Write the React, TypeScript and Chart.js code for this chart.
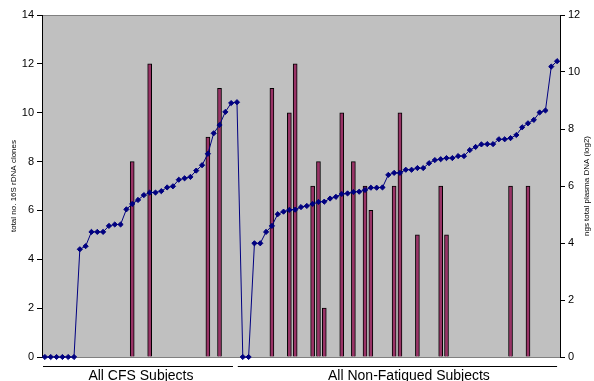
import React, { useEffect, useRef } from "react";
import { Chart, registerables } from "chart.js";

Chart.register(...registerables);

// ngs total plasma DNA (log2) – right axis, line
const cfsPlasma = [
  0, 0, 0, 0, 0, 0, 3.78, 3.89, 4.39, 4.39, 4.39, 4.6, 4.65, 4.65, 5.18, 5.37, 5.51,
  5.68, 5.77, 5.77, 5.82, 5.95, 5.99, 6.22, 6.27, 6.32, 6.54, 6.73, 7.13, 7.85, 8.14,
  8.6, 8.91, 8.94,
];
const nfPlasma = [
  0, 0, 3.99, 3.99, 4.39, 4.6, 5.01, 5.1, 5.16, 5.17, 5.26, 5.3, 5.37, 5.44, 5.45, 5.56,
  5.62, 5.72, 5.74, 5.79, 5.8, 5.86, 5.94, 5.94, 5.95, 6.39, 6.46, 6.46, 6.57, 6.57,
  6.63, 6.63, 6.8, 6.91, 6.94, 6.98, 6.98, 7.05, 7.05, 7.26, 7.37, 7.46, 7.47, 7.47,
  7.64, 7.64, 7.68, 7.79, 8.06, 8.2, 8.32, 8.58, 8.65, 10.19, 10.38,
];

// total no. 16S rDNA clones – left axis, bars
const n = null;
const cfsClones = [
  n, n, n, n, n, n, n, n, n, n, n, n, n, n, n, 8, n, n, 12, n, n, n, n, n, n, n, n, n,
  9, n, 11, n, n, n,
];
const nfClones = [
  n, n, n, n, n, 11, n, n, 10, 12, n, n, 7, 8, 2, n, n, 10, n, 8, n, 7, 6, n, n, n, 7,
  10, n, n, 5, n, n, n, 7, 5, n, n, n, n, n, n, n, n, n, n, 7, n, n, 7, n, n, n, n, n,
];

const groupNames = ["All CFS Subjects", "All Non-Fatigued Subjects"];
const leftAxisTitle = "total no. 16S rDNA clones";
const rightAxisTitle = "ngs total plasma DNA (log2)";
const leftMax = 14;
const rightMax = 12;
const tickStep = 2;

const subjects = [
  ...cfsPlasma.map((_, i) => `CFS ${i + 1}`),
  ...nfPlasma.map((_, i) => `NF ${i + 1}`),
];

const FONT = "'Liberation Sans', Arial, Helvetica, sans-serif";

const decorPlugin = {
  id: "decor",
  beforeDraw(chart: any) {
    const { ctx, chartArea } = chart;
    ctx.save();
    ctx.fillStyle = "#c0c0c0";
    ctx.fillRect(
      chartArea.left,
      chartArea.top,
      chartArea.right - chartArea.left,
      chartArea.bottom - chartArea.top
    );
    ctx.strokeStyle = "#808080";
    ctx.lineWidth = 1;
    ctx.beginPath();
    ctx.moveTo(chartArea.left, Math.round(chartArea.top) + 0.5);
    ctx.lineTo(chartArea.right, Math.round(chartArea.top) + 0.5);
    ctx.moveTo(chartArea.left, Math.round(chartArea.bottom) + 0.5);
    ctx.lineTo(chartArea.right, Math.round(chartArea.bottom) + 0.5);
    ctx.stroke();
    ctx.restore();
  },
  afterDraw(chart: any) {
    const { ctx, chartArea } = chart;
    const xs = chart.scales.x;
    const nCfs = cfsPlasma.length;
    const nAll = subjects.length;
    const p0 = xs.getPixelForValue(0);
    const pEndL = xs.getPixelForValue(nCfs - 1);
    const pStartR = xs.getPixelForValue(nCfs);
    const pEndR = xs.getPixelForValue(nAll - 1);
    const lineY = chartArea.bottom + 9.5;

    ctx.save();
    ctx.strokeStyle = "#000";
    ctx.lineWidth = 1;
    ctx.beginPath();
    ctx.moveTo(chartArea.left + 1, lineY);
    ctx.lineTo(pEndL - 4, lineY);
    ctx.moveTo(pStartR - 5, lineY);
    ctx.lineTo(pEndR, lineY);
    ctx.stroke();

    ctx.fillStyle = "#000";
    ctx.font = `14px ${FONT}`;
    ctx.textAlign = "center";
    ctx.textBaseline = "alphabetic";
    ctx.fillText(groupNames[0], (p0 + pEndL) / 2, chartArea.bottom + 23);
    ctx.fillText(groupNames[1], (pStartR + pEndR) / 2 + 9, chartArea.bottom + 23);

    const cy = (chartArea.top + chartArea.bottom) / 2;
    ctx.font = `8px ${FONT}`;
    ctx.textBaseline = "middle";
    ctx.save();
    ctx.translate(14, cy);
    ctx.rotate(-Math.PI / 2);
    ctx.fillText(leftAxisTitle, 0, 0);
    ctx.restore();
    ctx.save();
    ctx.translate(chart.width - 7, cy);
    ctx.rotate(-Math.PI / 2);
    ctx.fillText(rightAxisTitle, 0, 0);
    ctx.restore();
    ctx.restore();
  },
};

export default function App() {
  const ref = useRef<HTMLCanvasElement | null>(null);

  useEffect(() => {
    document.body.style.margin = "0";
    const canvas = ref.current;
    if (!canvas) return;
    const tickFont = { family: FONT, size: 11 };
    const chart = new Chart(canvas, {
      type: "bar",
      data: {
        labels: subjects,
        datasets: [
          {
            type: "line",
            label: rightAxisTitle,
            data: [...cfsPlasma, ...nfPlasma],
            yAxisID: "y1",
            borderColor: "#000080",
            borderWidth: 1,
            backgroundColor: "#000080",
            pointStyle: "rectRot",
            pointRadius: 2.6,
            pointBackgroundColor: "#000080",
            pointBorderColor: "#000080",
            pointBorderWidth: 1,
            tension: 0,
            clip: false,
            order: 1,
          } as any,
          {
            type: "bar",
            label: leftAxisTitle,
            data: [...cfsClones, ...nfClones],
            yAxisID: "y",
            backgroundColor: "#993366",
            borderColor: "#000000",
            borderWidth: 1,
            barThickness: 4,
            order: 2,
          } as any,
        ],
      },
      options: {
        responsive: false,
        animation: false,
        devicePixelRatio: 1,
        layout: { padding: { top: 15, left: 0, right: 0, bottom: 0 } },
        plugins: {
          legend: { display: false },
          tooltip: { enabled: false },
        },
        scales: {
          x: {
            type: "category",
            offset: true,
            grid: { display: false },
            border: { display: false },
            ticks: { display: false },
            afterFit(scale: any) {
              scale.height = 24;
            },
          },
          y: {
            position: "left",
            min: 0,
            max: leftMax,
            ticks: { stepSize: tickStep, color: "#000", font: tickFont, padding: 3 },
            grid: {
              drawOnChartArea: false,
              drawTicks: true,
              tickLength: 5,
              color: "#000",
            },
            border: { display: true, color: "#000", width: 1 },
            afterFit(scale: any) {
              scale.width = 42;
            },
          },
          y1: {
            position: "right",
            min: 0,
            max: rightMax,
            ticks: { stepSize: tickStep, color: "#000", font: tickFont, padding: 3 },
            grid: {
              drawOnChartArea: false,
              drawTicks: true,
              tickLength: 5,
              color: "#000",
            },
            border: { display: true, color: "#000", width: 1 },
            afterFit(scale: any) {
              scale.width = 34;
            },
          },
        },
      } as any,
      plugins: [decorPlugin],
    });
    return () => chart.destroy();
  }, []);

  return (
    <div style={{ width: 594, height: 381 }}>
      <canvas ref={ref} width={594} height={381} style={{ display: "block" }} />
    </div>
  );
}
